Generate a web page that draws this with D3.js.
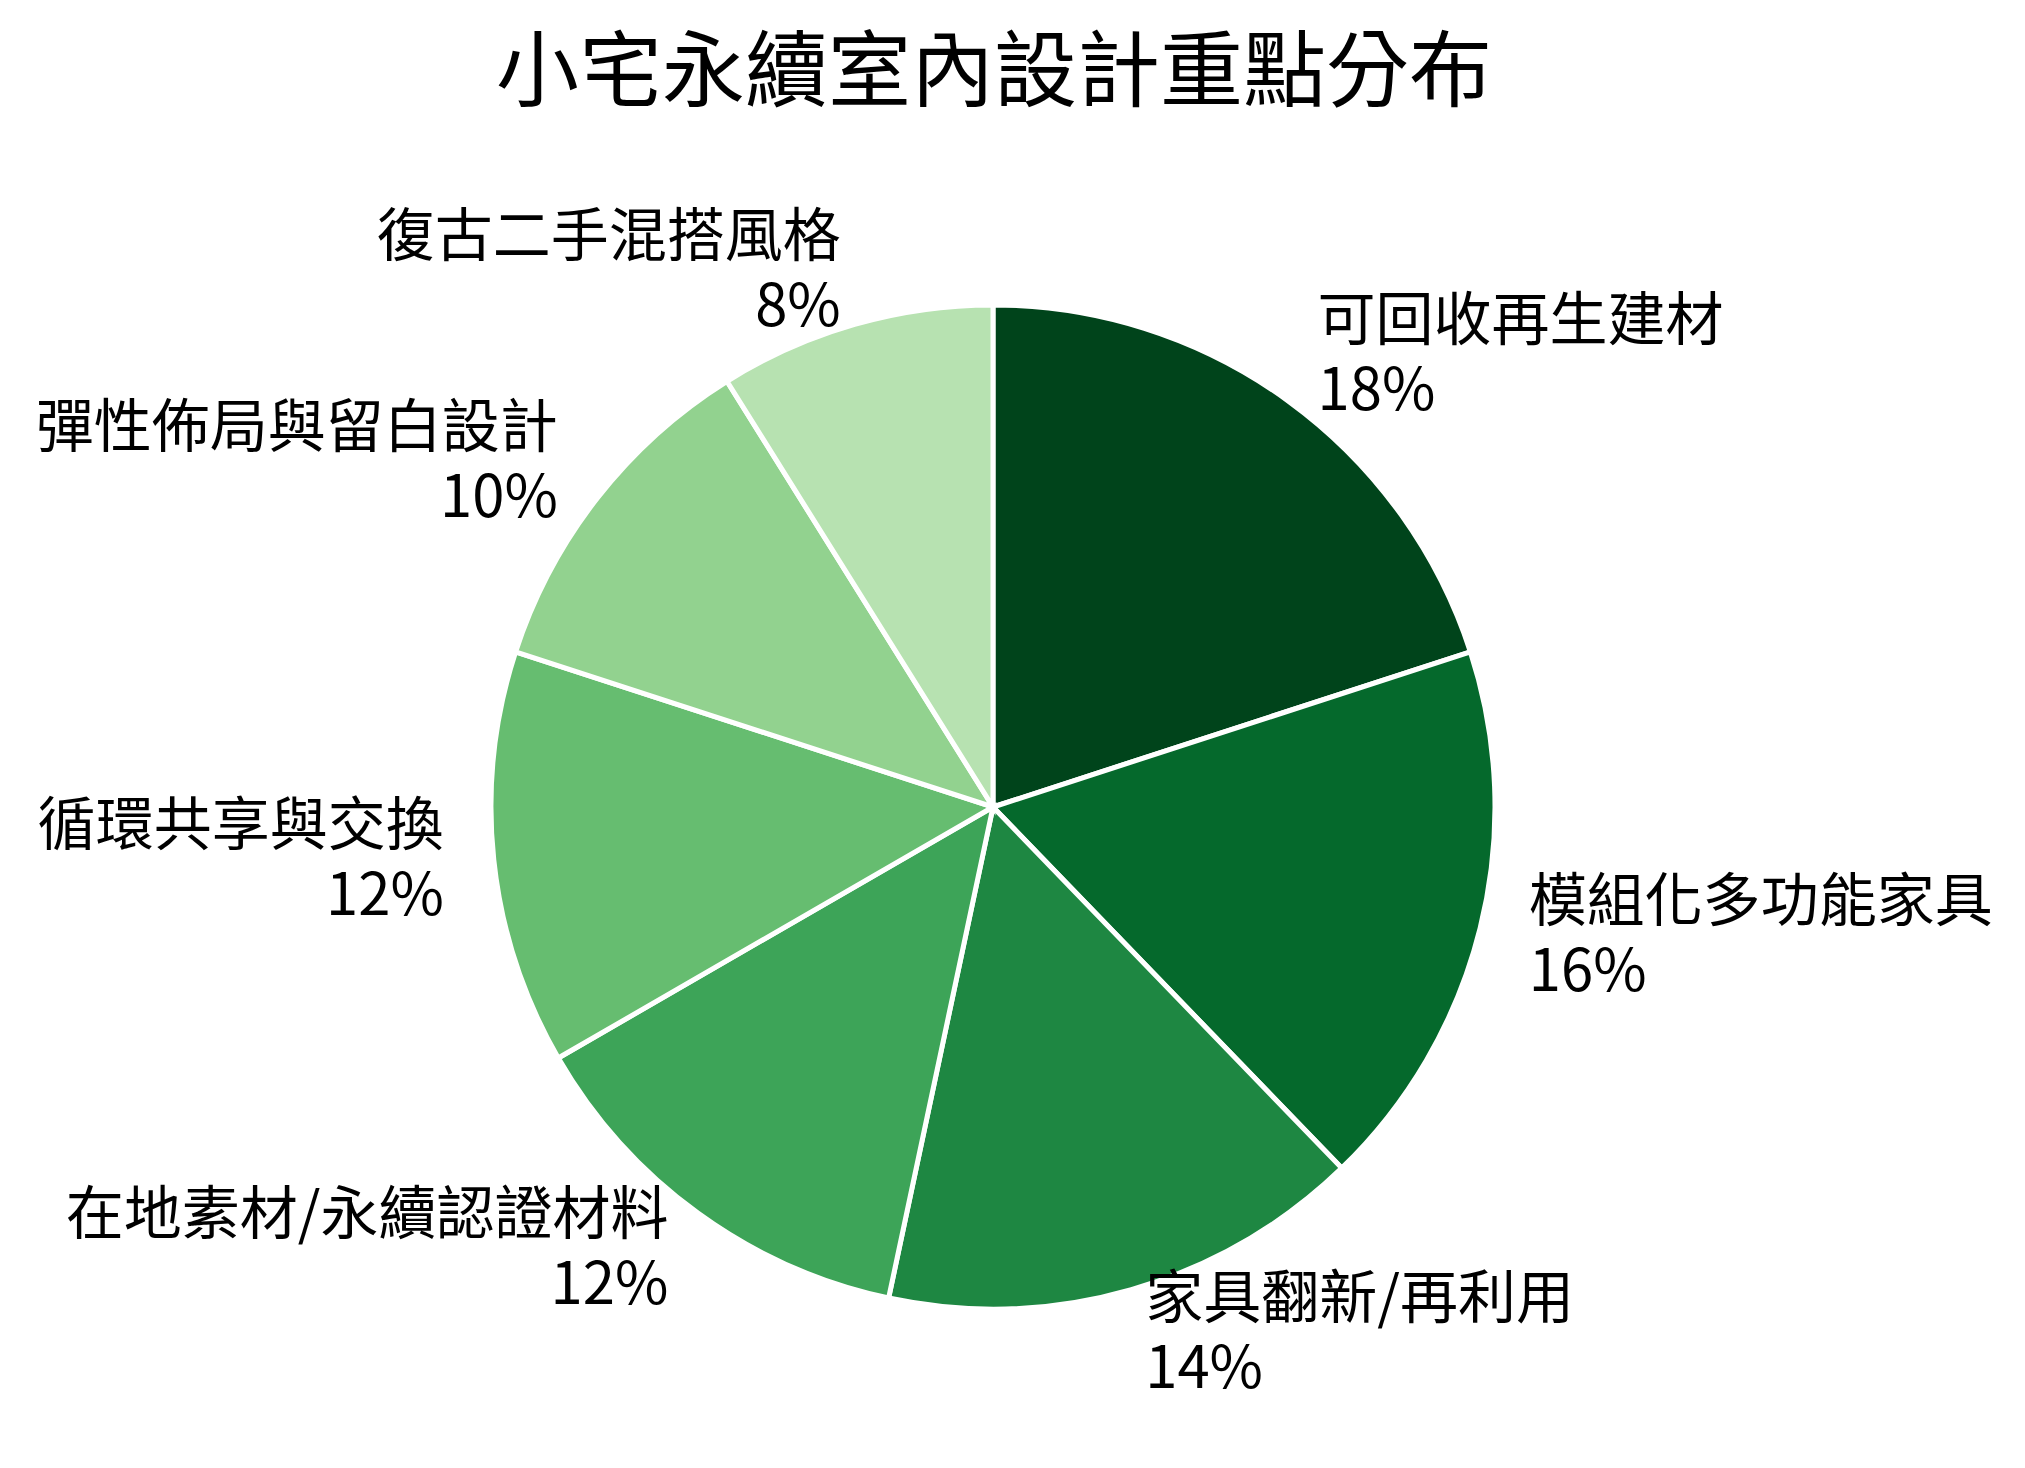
<!DOCTYPE html>
<html>
<head>
<meta charset="utf-8">
<script src="https://cdn.jsdelivr.net/npm/d3@7"></script>
<style>
  body { margin: 0; background: #fff; }
  text { font-family: "Noto Sans CJK TC", "Noto Sans CJK SC", sans-serif; fill: #000; }
</style>
</head>
<body>
<script>
const categories = [
  '可回收再生建材',
  '模組化多功能家具',
  '家具翻新/再利用',
  '在地素材/永續認證材料',
  '循環共享與交換',
  '彈性佈局與留白設計',
  '復古二手混搭風格'
];
const shares = [18, 16, 14, 12, 12, 10, 8];
const shareLabels = ['18%', '16%', '14%', '12%', '12%', '10%', '8%'];

const width = 2025, height = 1468;
const center = {x: 993, y: 807};
const radius = 502;

const svg = d3.select('body').append('svg')
  .attr('width', width)
  .attr('height', height);

svg.append('text')
  .attr('x', 994)
  .attr('y', 100)
  .attr('text-anchor', 'middle')
  .style('font-size', '83px')
  .text('小宅永續室內設計重點分布');

const data = categories.map((c, i) => ({name: c, value: shares[i], label: shareLabels[i]}));

const pie = d3.pie().value(d => d.value).sort(null);
const arc = d3.arc().innerRadius(0).outerRadius(radius);
const labelArc = d3.arc().innerRadius(radius * 1.1).outerRadius(radius * 1.1);

// darkest slice first, fading towards the last one
const shade = d3.scaleLinear().domain([0, data.length - 1]).range([1, 0.3]);

const g = svg.append('g')
  .attr('transform', `translate(${center.x}, ${center.y})`);

const arcs = pie(data);

g.selectAll('path')
  .data(arcs)
  .enter()
  .append('path')
  .attr('d', arc)
  .attr('fill', (d, i) => d3.interpolateGreens(shade(i)))
  .attr('stroke', '#fff')
  .attr('stroke-width', 5);

const labels = g.selectAll('text.label')
  .data(arcs)
  .enter()
  .append('text')
  .attr('class', 'label')
  .style('font-size', '58px')
  .attr('text-anchor', d => {
    const mid = (d.startAngle + d.endAngle) / 2;
    return mid < Math.PI ? 'start' : 'end';
  })
  .attr('transform', d => `translate(${labelArc.centroid(d)})`);

labels.append('tspan')
  .attr('x', 0)
  .attr('y', -20)
  .text(d => d.data.name);

labels.append('tspan')
  .attr('x', 0)
  .attr('y', 50)
  .text(d => d.data.label);
</script>
</body>
</html>
